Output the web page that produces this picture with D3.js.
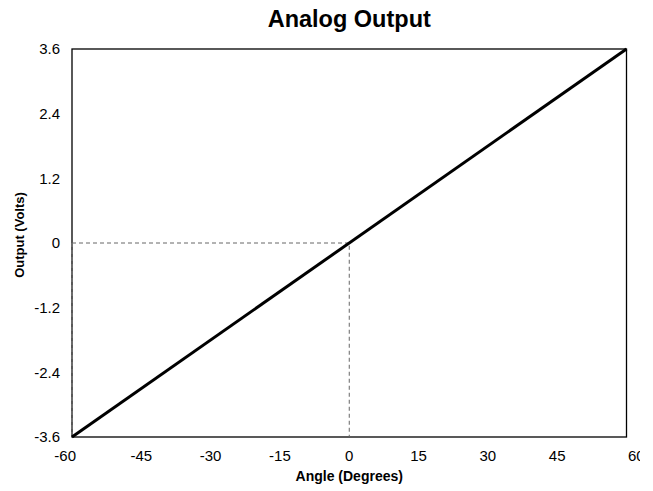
<!DOCTYPE html>
<html>
<head>
<meta charset="utf-8">
<script src="https://cdn.jsdelivr.net/npm/d3@7"></script>
<style>
  html, body { margin: 0; padding: 0; background: #fff; }
  svg { display: block; font-family: "Liberation Sans", Arial, sans-serif; }
</style>
</head>
<body>
<div id="chart"></div>
<script>
// Chart data
const angles = [-60, 60];
const volts = [-3.6, 3.6];
const xTicks = [-60, -45, -30, -15, 0, 15, 30, 45, 60];
const yTicks = [-3.6, -2.4, -1.2, 0, 1.2, 2.4, 3.6];
// dashed guide: from left edge at 0 V over to 0 deg, then down
const guideX = [-60, 0, 0];
const guideY = [0, 0, -3.6];
const edgeGuideX = [-60, -60];
const edgeGuideY = [0, -3.6];

const margin = { top: 49, right: 26, bottom: 54, left: 72 };
const width = 653, height = 491;

// svg is a bit narrower than the window so the last tick label is cut, like the source
const svg = d3.select('#chart').append('svg')
  .attr('width', 640)
  .attr('height', height);

const x = d3.scaleLinear().domain([-60, 60]).range([margin.left, width - margin.right - 0.5]);
const y = d3.scaleLinear().domain([-3.6, 3.6]).range([height - margin.bottom, margin.top]);

// Title
svg.append('text')
  .attr('x', (x(-60) + x(60)) / 2)
  .attr('y', 27)
  .attr('text-anchor', 'middle')
  .style('font-size', '23.5px')
  .style('font-weight', 'bold')
  .text('Analog Output');

// Plot frame
svg.append('rect')
  .attr('x', x(-60))
  .attr('y', y(3.6))
  .attr('width', x(60) - x(-60))
  .attr('height', y(-3.6) - y(3.6))
  .attr('fill', 'none')
  .attr('stroke', '#000')
  .attr('stroke-width', 1.3);

// X tick labels (end labels pushed outward, the last one runs off the edge)
const lastX = xTicks[xTicks.length - 1];
svg.append('g').selectAll('text')
  .data(xTicks)
  .enter().append('text')
  .attr('x', d => d === xTicks[0] ? x(d) + 4 : d === lastX ? x(d) + 1.5 : x(d))
  .attr('y', 461)
  .attr('text-anchor', d => d === xTicks[0] ? 'end' : d === lastX ? 'start' : 'middle')
  .style('font-size', '15px')
  .text(d => d);

// Y tick labels
svg.append('g').selectAll('text')
  .data(yTicks)
  .enter().append('text')
  .attr('x', 60)
  .attr('y', d => y(d))
  .attr('dy', '0.35em')
  .attr('text-anchor', 'end')
  .style('font-size', '15px')
  .text(d => d);

// Axis titles
svg.append('text')
  .attr('x', (x(-60) + x(60)) / 2)
  .attr('y', 481)
  .attr('text-anchor', 'middle')
  .style('font-size', '14px')
  .style('font-weight', 'bold')
  .text('Angle (Degrees)');

svg.append('text')
  .attr('transform', `translate(24, 235) rotate(-90)`)
  .attr('text-anchor', 'middle')
  .style('font-size', '13px')
  .style('font-weight', 'bold')
  .text('Output (Volts)');

// Dashed guide lines
const line = d3.line().x(d => x(d[0])).y(d => y(d[1]));
svg.append('path')
  .attr('d', line(d3.zip(guideX, guideY)))
  .attr('fill', 'none')
  .attr('stroke', '#666')
  .attr('stroke-width', 1)
  .attr('stroke-dasharray', '4,3');
svg.append('path')
  .attr('d', line(d3.zip(edgeGuideX, edgeGuideY)))
  .attr('fill', 'none')
  .attr('stroke', '#777')
  .attr('stroke-width', 1.3)
  .attr('stroke-dasharray', '4,3');

// Output line
svg.append('path')
  .attr('d', line(d3.zip(angles, volts)))
  .attr('fill', 'none')
  .attr('stroke', '#000')
  .attr('stroke-width', 3);
</script>
</body>
</html>
